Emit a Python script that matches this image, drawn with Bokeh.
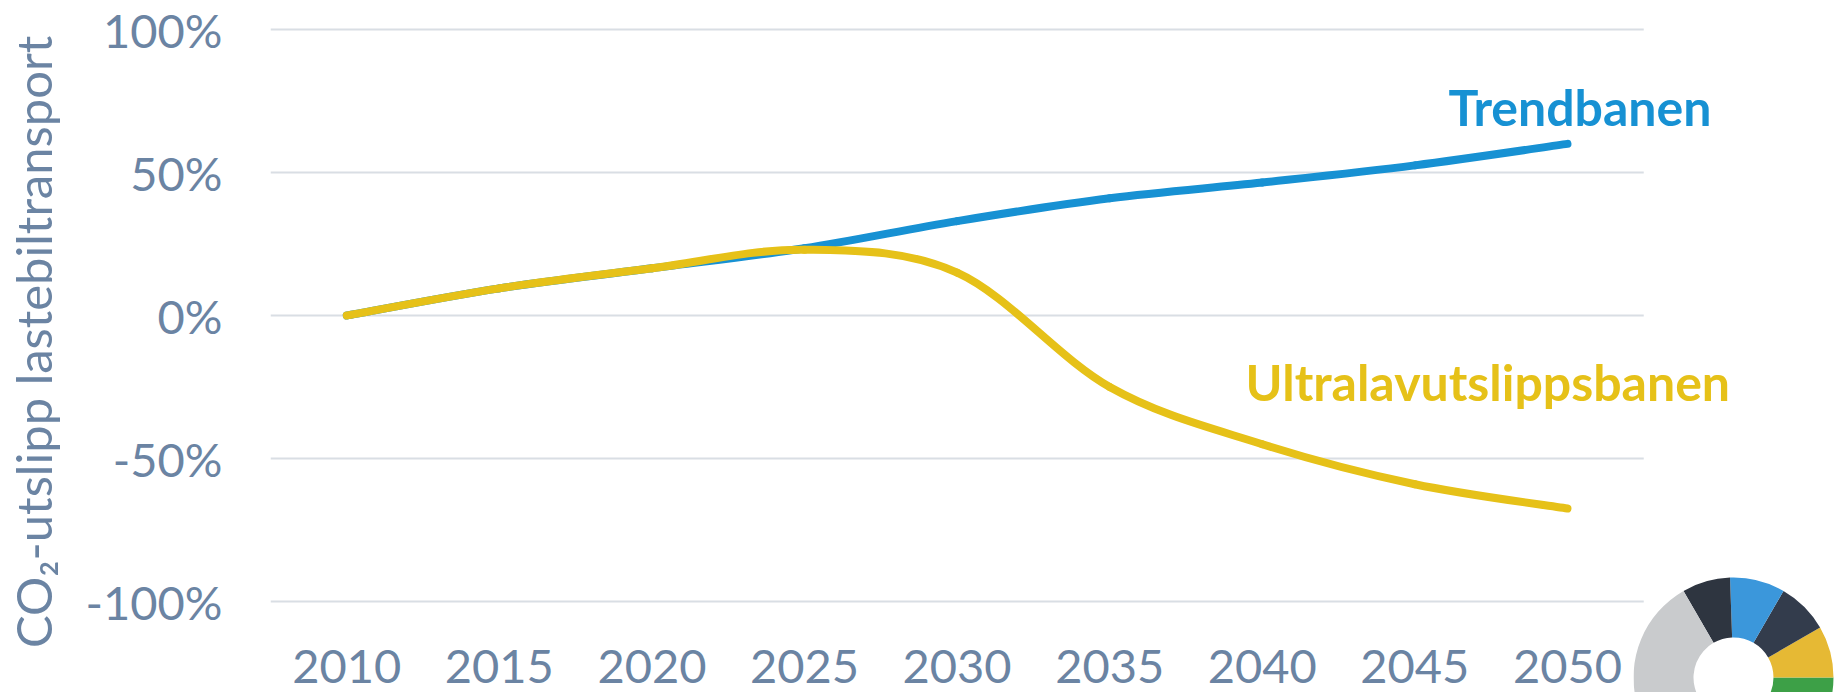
import math
from bokeh.plotting import figure
from bokeh.models import FixedTicker, NumeralTickFormatter, Label, Range1d, GridBox
from bokeh.layouts import column
from bokeh.embed import file_html
from bokeh.resources import INLINE

# ---- data ----
years = [2010, 2015, 2020, 2025, 2030, 2035, 2040, 2045, 2050]
trendbanen = [0.0, 0.095, 0.165, 0.235, 0.33, 0.41, 0.465, 0.525, 0.60]
ultralav = [0.0, 0.095, 0.165, 0.23, 0.15, -0.25, -0.45, -0.59, -0.675]
y_ticks = [-1.0, -0.5, 0.0, 0.5, 1.0]
series_names = ["Trendbanen", "Ultralavutslippsbanen"]
series_colors = ["#1791D3", "#E6C118"]
y_title = "CO\u2082-utslipp lastebiltransport"

# logo (decorative donut, bottom right)
logo_colors = ["#3DA047", "#E6B934", "#333C4C", "#3B97DB", "#2E3540", "#C9CBCD"]
logo_angles_deg = [-90, 0, 30, 60, 92, 120, 270]

TICK_COLOR = "#6B84A3"
GRID_COLOR = "#D9DEE4"
FONT = "Lato"

# ---- layout constants (pixels) ----
W, H = 1839, 692
LEFT = 268            # frame left
PLOT_W = 1375         # width covered by the 9 categories
X0, X1 = 2007.5, 2052.5
px_per_year = PLOT_W / (X1 - X0)
x_end = X0 + (W - LEFT) / px_per_year
FRAME_BOTTOM = 649
px_per_unit = 286.0
y_top = 1.0 + 29 / px_per_unit
y_bot = -1.0 - (FRAME_BOTTOM - 601) / px_per_unit


def smooth_segments(xs, ys):
    """Excel-style smoothed line: cubic Bezier control points (Catmull-Rom)."""
    n = len(xs)
    out = dict(x0=[], y0=[], x1=[], y1=[], cx0=[], cy0=[], cx1=[], cy1=[])
    for i in range(n - 1):
        xa, ya = xs[max(i - 1, 0)], ys[max(i - 1, 0)]
        xb, yb = xs[i], ys[i]
        xc, yc = xs[i + 1], ys[i + 1]
        xd, yd = xs[min(i + 2, n - 1)], ys[min(i + 2, n - 1)]
        out["x0"].append(xb); out["y0"].append(yb)
        out["x1"].append(xc); out["y1"].append(yc)
        out["cx0"].append(xb + (xc - xa) / 6.0); out["cy0"].append(yb + (yc - ya) / 6.0)
        out["cx1"].append(xc - (xd - xb) / 6.0); out["cy1"].append(yc - (yd - yb) / 6.0)
    return out


p = figure(width=W, height=H,
           x_range=Range1d(X0, x_end),
           y_range=Range1d(y_bot, y_top),
           output_backend="svg", toolbar_location=None,
           min_border_left=LEFT, min_border_right=0,
           min_border_top=0, min_border_bottom=H - FRAME_BOTTOM)
p.outline_line_color = None
p.background_fill_alpha = 0
p.border_fill_alpha = 0

# grid lines only across the category area
p.xgrid.visible = False
p.ygrid.visible = False
p.segment(x0=[X0] * len(y_ticks), x1=[X1] * len(y_ticks), y0=y_ticks, y1=y_ticks,
          line_color=GRID_COLOR, line_width=2)

# y axis
p.yaxis.ticker = FixedTicker(ticks=y_ticks)
p.yaxis.formatter = NumeralTickFormatter(format="0%")
p.yaxis.axis_line_color = None
p.yaxis.major_tick_line_color = None
p.yaxis.minor_tick_line_color = None
p.yaxis.major_tick_out = 0
p.yaxis.major_tick_in = 0
p.yaxis.major_label_standoff = 48
p.yaxis.major_label_text_font = FONT
p.yaxis.major_label_text_font_size = "47px"
p.yaxis.major_label_text_color = TICK_COLOR
p.yaxis.axis_label = y_title + "\u2002\u2009\u200a"
p.yaxis.axis_label_text_font = FONT
p.yaxis.axis_label_text_font_size = "49px"
p.yaxis.axis_label_text_font_style = "normal"
p.yaxis.axis_label_text_color = TICK_COLOR
p.yaxis.axis_label_standoff = 21

# x axis
p.xaxis.ticker = FixedTicker(ticks=years)
p.xaxis.axis_line_color = None
p.xaxis.major_tick_line_color = None
p.xaxis.minor_tick_line_color = None
p.xaxis.major_tick_out = 0
p.xaxis.major_tick_in = 0
p.xaxis.major_label_standoff = 0
p.xaxis.major_label_text_font = FONT
p.xaxis.major_label_text_font_size = "47px"
p.xaxis.major_label_text_color = TICK_COLOR

# lines (smoothed)
for ys, col in zip([trendbanen, ultralav], series_colors):
    seg = smooth_segments(years, ys)
    p.bezier(x0=seg["x0"], y0=seg["y0"], x1=seg["x1"], y1=seg["y1"],
             cx0=seg["cx0"], cy0=seg["cy0"], cx1=seg["cx1"], cy1=seg["cy1"],
             line_color=col, line_width=8, line_cap="round")

# series labels
p.add_layout(Label(x=2046.1, y=0.73, text=series_names[0],
                   text_font=FONT, text_font_style="bold", text_font_size="50px",
                   text_color=series_colors[0], text_baseline="alphabetic"))
p.add_layout(Label(x=2039.45, y=-0.231, text=series_names[1],
                   text_font=FONT, text_font_style="bold", text_font_size="50px",
                   text_color=series_colors[1], text_baseline="alphabetic"))

# decorative logo, overlapping the bottom-right grid cell
LOGO_X, LOGO_Y = 1633, 575
logo = figure(width=W - LOGO_X, height=H - LOGO_Y,
              x_range=Range1d(0, W - LOGO_X), y_range=Range1d(0, H - LOGO_Y),
              x_axis_location=None, y_axis_location=None,
              output_backend="svg", toolbar_location=None, min_border=0)
logo.outline_line_color = None
logo.background_fill_alpha = 0
logo.border_fill_alpha = 0
logo.grid.visible = False
logo.annular_wedge(x=[100] * len(logo_colors), y=[15] * len(logo_colors),
                   inner_radius=40, outer_radius=100,
                   inner_radius_units="screen", outer_radius_units="screen",
                   start_angle=[math.radians(a) for a in logo_angles_deg[:-1]],
                   end_angle=[math.radians(a) for a in logo_angles_deg[1:]],
                   color=logo_colors, line_color=None)
logo_box = column(logo, width=W - LOGO_X, height=H - LOGO_Y)

layout = GridBox(children=[(p, 0, 0, 2, 2), (logo_box, 1, 1, 1, 1)],
                 rows=[f"{LOGO_Y}px", f"{H - LOGO_Y}px"],
                 cols=[f"{LOGO_X}px", f"{W - LOGO_X}px"])
open("out.html", "w").write(file_html(layout, INLINE))
